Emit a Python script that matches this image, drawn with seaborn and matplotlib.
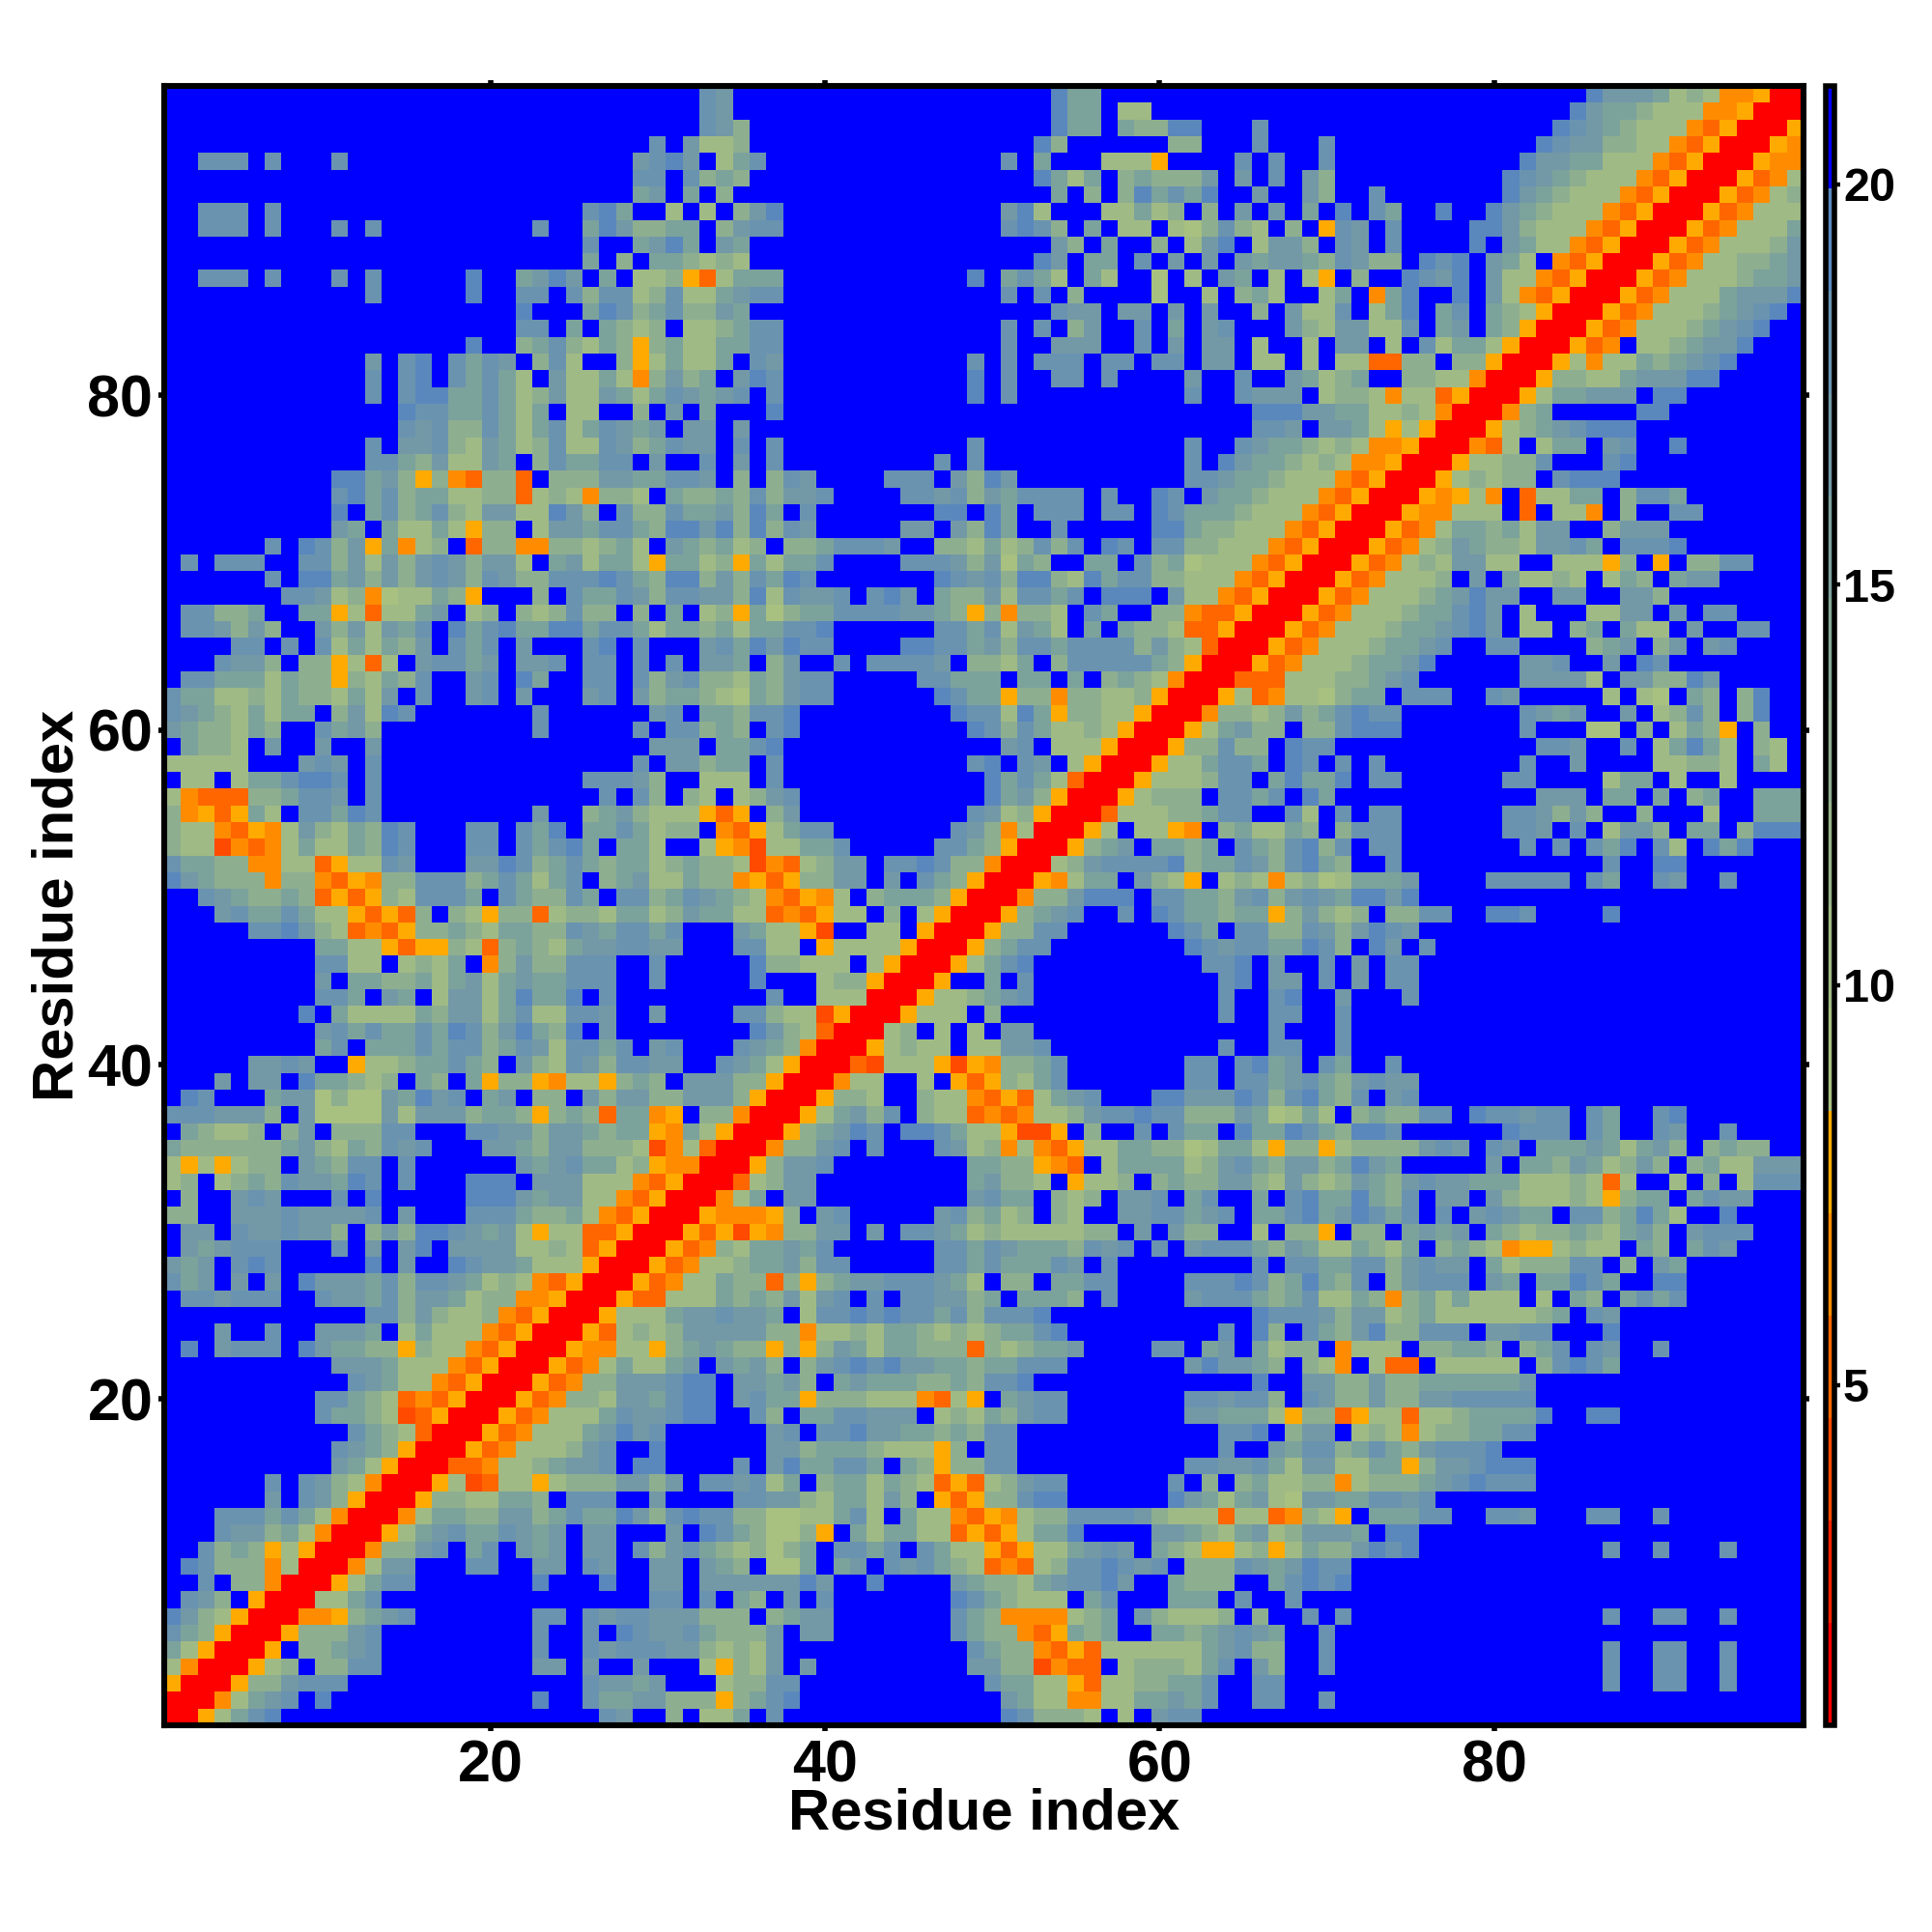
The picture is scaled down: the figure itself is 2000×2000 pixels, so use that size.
import numpy as np
import pandas as pd
import seaborn as sns
import matplotlib
matplotlib.use("Agg")
import matplotlib.pyplot as plt
from matplotlib.colors import ListedColormap, BoundaryNorm

# residue-residue distances, one code per cell
# each row y starts at x=y and runs to x=98, the map is symmetric
n_res = 98
codes = {"R": 1.4, "d": 4.0, "x": 5.2, "o": 6.5, "y": 7.8, "1": 9.0, "2": 10.3, "3": 12.9,
         "4": 15.0, "5": 16.8, "6": 18.0, "7": 19.3, "8": 19.3, ".": 21.0}

rows_01_08 = [
    "RRy2467" + "."*19 + "65..3.224.6." + "."*12 + "763332.2.566" + "."*6 + "."*30,
    "RRo2456.7" + "."*12 + "7..64455333y3467" + "."*12 + "5422oo2244546" + "..66." + ".6" + "."*28,
    "RRy335666" + "."*14 + "65545...23366" + "."*11 + "64422yx2233446" + "..66." + "."*18 + "6..66..6" + "."*4,
    "RRy23.3366" + "."*9 + "55.5..5...2y325." + "5" + "."*9 + "5533doxx.2333246" + ".53." + ".6" + "."*16 + "6..66..6" + "."*4,
    "RRy.33456" + "."*9 + "6..656665532325." + "."*10 + "6433oxyx22222245633" + "." + ".6" + "."*16 + "6..66..6" + "."*4,
    "RRy33356" + "."*9 + "6..6.7655643335." + "55" + "."*7 + "6433oxy434" + ".." + "44345654" + "." + ".6" + "."*28,
    "RRooy3456" + "."*7 + "66.6566555333.34" + "55" + "."*7 + "643oooo234" + "." + "532223" + ".3.." + "6.6" + "."*15 + "6..66..6" + "."*4,
    "RR2246" + "."*16 + "66.6.43.5" + ".6" + "."*7 + "7643222" + "." + "46" + "..." + "444" + "." + "6" + ".." + "6" + "."*30,
]
rows_09_20 = [
    "RRy2466" + "."*7 + "7" + "..." + "7" + ".." + "55" + "." + "555555" + "75..7....54332456675..4333..46" + "767" + "."*27,
    "RRo255...66..55.65..55.543.11" + "4.45.656432xox23667656.3336545" + "766" + "."*27,
    "RRo3356.46.545.55.6356432313" + "4.6646.6422yxy224565.432yy23y2" + "4335767" + "."*11 + "6..6...6" + "."*4,
    "RRy2456446545.55...5.764311" + "3y.424422xyxy2447....554324523" + "5554.77" + "."*23,
    "RRo24433553464475367663311" + "22462.422oxyo233666653222x22xo" + "32y.44466..665...66..6" + "."*8,
    "RRy3322443.666..5....6655" + "3244253.yxy33677......75424521" + "55446656" + "."*22,
    "RRy2dx22y23335535.665624" + ".3442432xyx23566......6.3.3422" + "33o23334567666" + "."*16,
    "RRxxo2234556.77....6.57" + "44664.43y3366" + "."*10 + "6655642" + "552244y3556777" + "."*16,
    "RRyxo222356..7......55" + "34443222y3.66" + "."*12 + "6..54" + "663464356667" + "."*18,
    "RRyxo22245756......56" + ".667554434366" + "."*12 + "667.3" + "55.232o2334466" + "."*16,
    "RRyxo2224655677..63." + "4466555.23243566" + "."*7 + "554442y" + "33xy22x22344447..77" + "."*11,
    "RRyxo332554677.5644" + "y333222ox2y.4566" + "."*7 + "665663." + "65335335566666" + "."*16,
]
rows_21_38 = [
    "RRyxo33555677.5545" + "3.454443343667" + "."*13 + "7.." + "55335334444445" + "."*16,
    "RRyxo242245.5453." + "3567675544344666" + "."*7 + "575543." + "32o.2xx.22222.36764" + "."*11,
    "RRyoo22y345433y3" + "y354244333x323445....66.45.423" + "3.o222.33443.346.65..6" + "."*8,
    "RRyx23235555533" + "o223244323234467" + "."*9 + "6.73." + "6435733666.5566...7" + "."*11,
    "RRy2224556554." + "266767664636667" + "."*12 + "766" + "6535523422222234.65" + "."*11,
    "RRyxx22243435" + "256.6.665534.4443.6....5666434" + "62243o3424222.2.43.4646" + "."*7,
    "RRyxo22433x3" + "y3455666542.33.4466....6667634" + "7436.35666.54.44764..77" + "."*7,
    "RRyxo223445" + "366.....664644465.6" + "."*8 + "6.6" + "6446635655.4233366.3.54" + "."*7,
    "RRyxo32445" + "46......664654443656.6.5666435" + "4224324.3432oyy2322.43.465" + "....",
    "RRyxydyo3" + "355.5.6654232222233.5.533..2.3" + "3y.33.4545.43233432453.5666" + "...",
    "RRyoooy3" + ".56.....563423.32..5566456.446" + "7457646.6.56544.6634742..7....",
    "RRo24.5" + "5.........5644.323.556.46..4.6" + "7447436.55.5322232y344.4655...",
    "RRx235" + "5.........45332.y223.343355325" + "323543565544422232x2..2.3.2666",
    "RRy35" + "56........4433yox.244442356435" + "534754.....5.443542353.3422555",
    "RRo3" + "356.6...6523o2oxy22443312442y3" + "3y23333565.65.444542453.3433..",
    "RRy" + "34576.776422yddy.3..6.644.7447" + "643776......7666.64..65..6....",
    "RR" + "y24536.322xoxo2235667663335412" + "42.343366.766566.64..67.......",
    "R" + "Ry332..322oxyx2456...775557636" + "7436.56" + "."*23,
]
rows_39_68 = [
    "RRo22..2.yxy3246.......66.6645" + "6435655" + "."*23,
    "RRxd222ydyo3346" + "."*7 + "66.6745" + ".64..6" + "."*24,
    "RRy2322.22556" + "."*10 + "6..66" + "..6" + "."*27,
    "RR23.2.2.55" + "."*14 + "6." + "..6" + "."*27,
    "RRy222.3" + "."*13 + "6..66" + "..6" + "."*27,
    "RRy223456" + "."*11 + "6..67" + "..5...6" + "."*23,
    "RRy..4.6" + "."*11 + "67.55" + ".6.5.66" + "."*23,
    "RRy2467" + "."*10 + "667.5." + ".6.5.66" + "."*23,
    "RRy3466" + "."*8 + "7656644" + "763.75.6" + "."*22,
    "RRy3366" + "."*6 + "764.6633" + "6535765" + "."*23,
    "RRy3456..6.7644344y3" + "5323.3366..776....7" + "."*11,
    "RRo335777.664435635" + "6547757" + "."*23,
    "RRyo244.532y.232o2" + "3124445....66666.64..65..6....",
    "RR235666673446536" + "743..6" + "."*12 + "6..77" + "."*7,
    "RRy345.4434.6436" + "736.66" + "."*7 + "6.6.647.62.747...",
    "RRy2.22yo.34224" + "3.3666" + "."*6 + "665.6.2553.44.3777",
    "RRx22233466..6" + "2.6.66" + "."*6 + "665353..3...2..444",
    "RRy2333.6646." + "74" + "."*12 + "555.44.4.34..444",
    "RRy222366.47" + "447.66" + "."*6 + "66" + "...." + "244.2..2....",
    "RRy224664.7" + "6.6.6" + "."*8 + "6..5" + "...." + "22332.42.",
    "RRy33633.7" + "66" + "."*12 + "665..6.24742.32.",
    "RRy24533." + "336777" + "."*7 + "6...11.3.243y.3..",
    "RRo33235" + "346766" + "."*7 + "6545..5.2363.37..",
    "RRy2xo2" + "21344.666..65" + "."*5 + "2.21.43.37..",
    "RRxxx2" + "2233456" + "."*6 + "55552.553375" + "."*5,
    "RRyxo" + "22234457" + "."*5 + "556..5.76" + "."*8,
    "RRyx" + "o22234456..66....345.35.56....",
    "RRy" + "xo2223445675.22.34.422.5..66..",
    "RR" + "yxo222344675.2...2255.5.66....",
    "R" + "Ryxo22234575" + "5..55..553........",
]
rows_69_98 = [
    "RRyxo2223.5.42232.243.455.....",
    "RRyxo2325522..222y3.y.3366...",
    "RRyxo23543325564.6667.......",
    "RRyxo24434255..3555........",
    "RRyoo222.x.22o.3..66......",
    "RRyoy2o.x2244.3664.......",
    "RRy23233.6777...........",
    "RRy22336...67..........",
    "RRox2.244.56..7.......",
    "RRy23456777..........",
    "RRo34.....77........",
    "RRy244555.77.......",
    "RRy3322455577.....",
    "RRy2o22434567....",
    "RRyxo.2234557...",
    "RRyxo22234567..",
    "RRyxo22234567.",
    "RRyxo22245557",
    "RRyxo2223445",
    "RRyxo223345",
    "RRyxo22235",
    "RRyxo2224",
    "RRyxo222",
    "RRyxo23",
    "RRyxo2",
    "RRyoo",
    "RRyo",
    "RRy",
    "RR",
    "R",
]
all_rows = rows_01_08 + rows_09_20 + rows_21_38 + rows_39_68 + rows_69_98

# colour levels of the key, 16 steps from 0.75 to 21.23
level_edges = [0.75, 2.03, 3.31, 4.59, 5.87, 7.15, 8.43, 9.71, 10.99, 12.27,
               13.55, 14.83, 16.11, 17.39, 18.67, 19.95, 21.23]
level_colors = ["#FF0000", "#FF2200", "#FF4A00", "#FF6600", "#FF8C00", "#FFAA00",
                "#A8C080", "#A0BA85", "#97B48A", "#8EAE90", "#85A896", "#7CA29C",
                "#7399A6", "#6A93B0", "#5A88BC", "#0000FF"]
cbar_ticks = [5, 10, 15, 20]
axis_ticks = [20, 40, 60, 80]

dist = np.zeros((n_res, n_res))
for y, row in enumerate(all_rows):
    if len(row) != n_res - y:
        raise ValueError("row %d has %d cells, not %d" % (y + 1, len(row), n_res - y))
    for k, c in enumerate(row):
        dist[y, y + k] = codes[c]
        dist[y + k, y] = codes[c]

labels = list(range(1, n_res + 1))
df = pd.DataFrame(dist, index=labels, columns=labels)

plt.rcParams["font.family"] = ["Liberation Sans", "DejaVu Sans"]
plt.rcParams["font.weight"] = "bold"

fig = plt.figure(figsize=(10, 10), dpi=200)
ax = fig.add_axes([170/2000, 1 - 1786/2000, 1697/2000, 1697/2000])
cax = fig.add_axes([1890/2000, 1 - 1786/2000, 9/2000, 1697/2000])

cmap = ListedColormap(level_colors)
norm = BoundaryNorm(level_edges, cmap.N)
sns.heatmap(df, ax=ax, cbar_ax=cax, cmap=cmap, norm=norm, square=False,
            xticklabels=False, yticklabels=False, linewidths=0, rasterized=True,
            cbar_kws={"ticks": cbar_ticks, "spacing": "proportional"})
ax.invert_yaxis()

ax.set_xticks([t - 0.5 for t in axis_ticks])
ax.set_yticks([t - 0.5 for t in axis_ticks])
ax.set_xticklabels(axis_ticks, fontsize=22, fontweight="bold")
ax.set_yticklabels(axis_ticks, fontsize=22, fontweight="bold")
ax.tick_params(axis="both", which="major", length=2.2, width=2, top=True, right=True,
               bottom=True, left=True, labeltop=False, labelright=False)
ax.tick_params(axis="x", pad=3)
ax.tick_params(axis="y", pad=2)
ax.set_xlabel("Residue index", fontsize=21.5, fontweight="bold", va="center")
ax.set_ylabel("Residue index", fontsize=21.5, fontweight="bold", va="center")
ax.xaxis.set_label_coords(0.5, -0.054)
ax.yaxis.set_label_coords(-0.0647, 0.5)
for s in ax.spines.values():
    s.set_visible(True)
    s.set_linewidth(2.2)
    s.set_color("black")

cb = ax.collections[0].colorbar
cb.outline.set_visible(True)
cb.outline.set_linewidth(2)
cb.outline.set_edgecolor("black")
cb.ax.minorticks_off()
cb.ax.yaxis.set_ticks(cbar_ticks)
cb.ax.tick_params(length=2.2, width=1.6, labelsize=17.5, pad=1)
for t in cb.ax.get_yticklabels():
    t.set_fontweight("bold")

fig.savefig("out.png", dpi=200, facecolor="white")
